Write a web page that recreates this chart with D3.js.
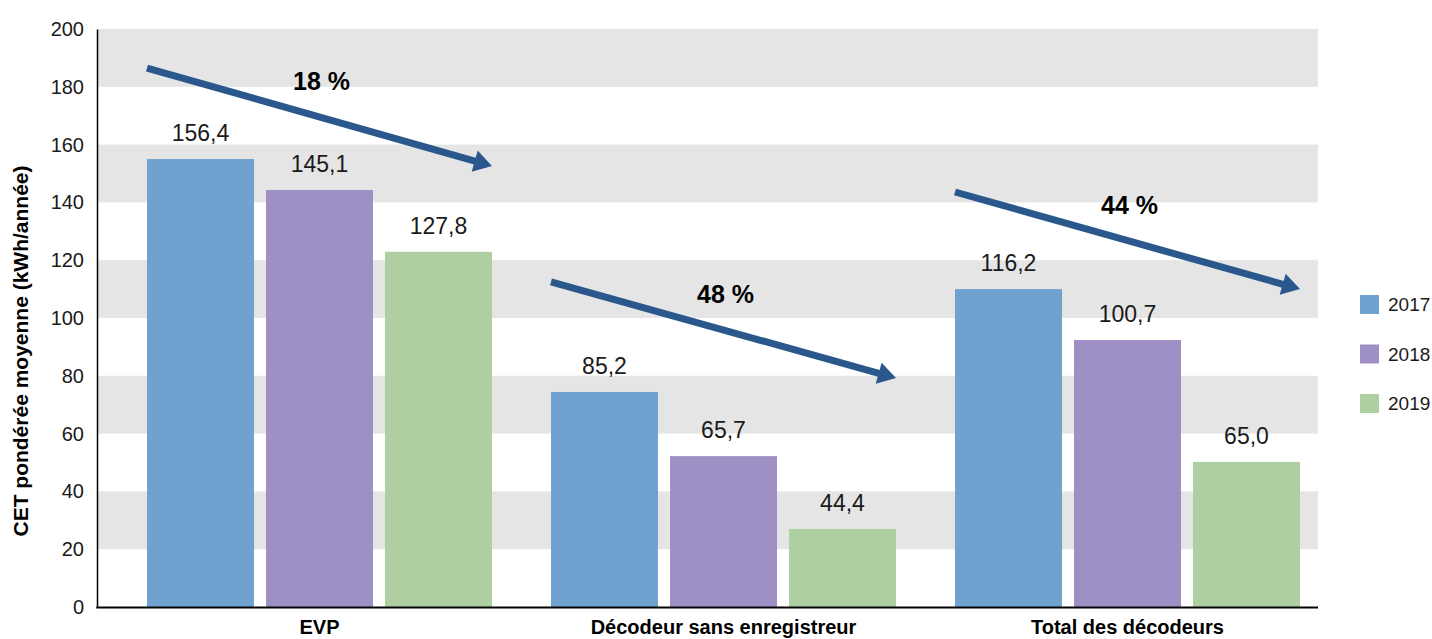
<!DOCTYPE html>
<html>
<head>
<meta charset="utf-8">
<script src="https://cdn.jsdelivr.net/npm/d3@7"></script>
<style>
  html, body { margin: 0; padding: 0; background: #fff; }
  svg { display: block; font-family: "Liberation Sans", Arial, Helvetica, sans-serif; }
</style>
</head>
<body>
<svg id="chart" width="1432" height="639"></svg>
<script>
// ---- data ----
const categories = ["EVP", "Décodeur sans enregistreur", "Total des décodeurs"];
const years = ["2017", "2018", "2019"];
const values2017 = [155.0, 74.4, 110.0];
const values2018 = [144.3, 52.2, 92.4];
const values2019 = [122.9, 27.0, 50.2];
const labels2017 = ["156,4", "85,2", "116,2"];
const labels2018 = ["145,1", "65,7", "100,7"];
const labels2019 = ["127,8", "44,4", "65,0"];
const arrowStart = [186.5, 112.5, 143.6];
const arrowEnd = [152.6, 79.2, 110.0];
const arrowLabels = ["18 %", "48 %", "44 %"];
const yTicks = [0, 20, 40, 60, 80, 100, 120, 140, 160, 180, 200];
const colors = ["#6FA2CF", "#9E90C4", "#AECFA2"];

const seriesValues = [values2017, values2018, values2019];
const seriesLabels = [labels2017, labels2018, labels2019];

const svg = d3.select("#chart");

const plotLeft = 97, plotRight = 1318;
const y = d3.scaleLinear().domain([0, 200]).range([607, 29]);

const pad = 59 / 404;
const x0 = d3.scaleBand().domain(categories).range([88, 88 + 404 * (3 + pad)])
  .paddingInner(pad).paddingOuter(pad);
const x1 = d3.scaleBand().domain(years).range([0, x0.bandwidth()])
  .paddingInner(12 / 119).paddingOuter(0);

// gray bands
const bandStarts = yTicks.filter((t, i) => i % 2 === 1 && t < 200);
svg.append("g").selectAll("rect").data(bandStarts).join("rect")
  .attr("x", plotLeft)
  .attr("width", plotRight - plotLeft)
  .attr("y", d => y(d + 20))
  .attr("height", d => y(d) - y(d + 20))
  .attr("fill", "#E5E5E5");

// bars
const barData = [];
categories.forEach((c, ci) => {
  years.forEach((yr, si) => {
    barData.push({ cat: c, year: yr, si, value: seriesValues[si][ci], label: seriesLabels[si][ci] });
  });
});

svg.append("g").selectAll("rect").data(barData).join("rect")
  .attr("x", d => x0(d.cat) + x1(d.year))
  .attr("width", x1.bandwidth())
  .attr("y", d => y(d.value))
  .attr("height", d => y(0) - y(d.value))
  .attr("fill", d => colors[d.si]);

// value labels
svg.append("g").selectAll("text").data(barData).join("text")
  .attr("x", d => x0(d.cat) + x1(d.year) + x1.bandwidth() / 2)
  .attr("y", d => y(d.value) - 18)
  .attr("text-anchor", "middle")
  .attr("font-size", 23)
  .attr("fill", "#1a1a1a")
  .text(d => d.label);

// y axis
const yAxis = d3.axisLeft(y).tickValues(yTicks).tickSize(0).tickSizeOuter(0).tickPadding(13);
const gy = svg.append("g").attr("transform", `translate(${plotLeft},0)`).call(yAxis);
gy.select(".domain").attr("stroke", "#000").attr("stroke-width", 1.5);
gy.selectAll("text").attr("font-size", 20).attr("fill", "#1a1a1a")
  .attr("font-family", "\"Liberation Sans\", Arial, sans-serif");

// x axis line
svg.append("line")
  .attr("x1", plotLeft - 0.75).attr("x2", plotRight)
  .attr("y1", y(0) + 0.5).attr("y2", y(0) + 0.5)
  .attr("stroke", "#000").attr("stroke-width", 2);

// category labels
svg.append("g").selectAll("text").data(categories).join("text")
  .attr("x", d => x0(d) + x0.bandwidth() / 2)
  .attr("y", 634)
  .attr("text-anchor", "middle")
  .attr("font-size", 20)
  .attr("font-weight", "bold")
  .attr("fill", "#000")
  .text(d => d);

// y title
svg.append("text")
  .attr("transform", `translate(28,351) rotate(-90)`)
  .attr("text-anchor", "middle")
  .attr("font-size", 21)
  .attr("font-weight", "bold")
  .attr("fill", "#000")
  .text("CET pondérée moyenne (kWh/année)");

// arrows
const arrowColor = "#2A588C";
const ga = svg.append("g");
categories.forEach((c, i) => {
  const sx = x0(c) + x1(years[0]);
  const ex = x0(c) + x0.bandwidth();
  const sy = y(arrowStart[i]);
  const ey = y(arrowEnd[i]);
  const dx = ex - sx, dy = ey - sy;
  const len = Math.hypot(dx, dy);
  const ux = dx / len, uy = dy / len;
  const nx = -uy, ny = ux;
  const headLen = 18, headHalf = 11;
  const bx = ex - ux * headLen, by = ey - uy * headLen;
  ga.append("line")
    .attr("x1", sx).attr("y1", sy)
    .attr("x2", bx + ux * 2).attr("y2", by + uy * 2)
    .attr("stroke", arrowColor).attr("stroke-width", 7);
  ga.append("path")
    .attr("d", `M${ex},${ey}L${bx + nx * headHalf},${by + ny * headHalf}L${bx - nx * headHalf},${by - ny * headHalf}Z`)
    .attr("fill", arrowColor);
  ga.append("text")
    .attr("x", x0(c) + x0.bandwidth() / 2 + 2)
    .attr("y", (sy + ey) / 2 - 27)
    .attr("text-anchor", "middle")
    .attr("font-size", 25)
    .attr("font-weight", "bold")
    .attr("fill", "#000")
    .text(arrowLabels[i]);
});

// legend
const lg = svg.append("g");
years.forEach((yr, i) => {
  lg.append("rect")
    .attr("x", 1360).attr("y", 295 + i * 49.5)
    .attr("width", 19).attr("height", 19)
    .attr("fill", colors[i]);
  lg.append("text")
    .attr("x", 1388).attr("y", 311 + i * 49.5)
    .attr("font-size", 19)
    .attr("fill", "#1a1a1a")
    .text(yr);
});
</script>
</body>
</html>
